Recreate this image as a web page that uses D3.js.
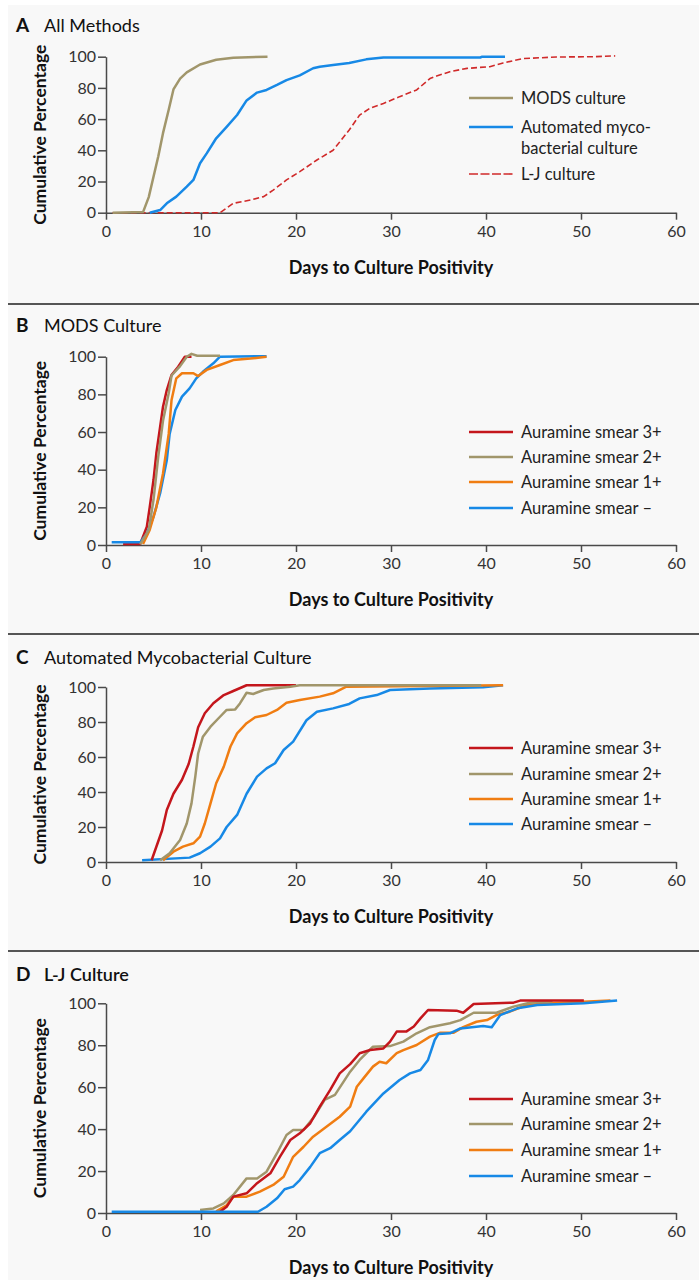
<!DOCTYPE html>
<html>
<head>
<meta charset="utf-8">
<title>Days to Culture Positivity</title>
<script src="https://cdn.jsdelivr.net/npm/d3@7"></script>
<style>
  body { margin: 0; background: #fff; }
  svg { display: block; font-family: Lato, "Open Sans", sans-serif; }
  .axis .domain, .axis .tick line { stroke: #4a4a4a; stroke-width: 1.5; }
  .axis .tick text { fill: #333; font-size: 16px; font-family: Lato, sans-serif; }
  .curve { fill: none; stroke-linejoin: round; }
  .legend text { font-size: 16.5px; fill: #222; }
</style>
</head>
<body>
<div id="chart"></div>
<script>
// tick labels
var xTicks = [0, 10, 20, 30, 40, 50, 60];
var yTicks = [0, 20, 40, 60, 80, 100];

var panelLetters = ['A', 'B', 'C', 'D'];
var panelTitles = ['All Methods', 'MODS Culture', 'Automated Mycobacterial Culture', 'L-J Culture'];
var methodLabels = [['MODS culture'], ['Automated myco-', 'bacterial culture'], ['L-J culture']];
var smearLabels = [['Auramine smear 3+'], ['Auramine smear 2+'], ['Auramine smear 1+'], ['Auramine smear \u2013']];

// [day, cumulative %]
// A: all methods
var allMods = [[0.7,0],[3.9,0.4],[4.5,10],[5.0,23],[5.5,36],[6.0,51],[6.6,66],[7.1,79],[7.8,86],[8.5,90],[9.9,95],[11.6,98],[13.4,99.4],[17,100]];
var allAuto = [[4.6,0],[5.7,1.7],[6.4,6],[7.4,10.3],[8.5,16.7],[9.2,21],[9.9,31.7],[10.6,38],[11.6,47.7],[12.7,55],[13.8,62.6],[14.8,72],[15.9,77],[16.9,78.7],[18,81.9],[19,85],[20.4,88],[21.8,92.6],[22.5,93.6],[23.9,94.7],[25.6,96],[27.4,98.3],[29.2,99.5],[39.4,99.5],[39.6,100],[42,100]];
var allLJ = [[0.7,0],[12,0],[13.4,6],[15.2,8.1],[16.6,10.3],[17.6,14.5],[19,21],[20.4,26.3],[22.2,33.8],[23.9,40],[25.6,53],[26.7,62.6],[27.8,67],[29.2,70],[30.9,74.4],[32.7,78.7],[34.1,86],[34.8,87.6],[36.2,90.4],[38,92.5],[40.4,93.6],[41.8,96],[43.9,98.8],[47.4,99.8],[51.3,100],[53.6,100.5]];

// B: MODS culture by smear grade
var modsSmear3 = [[1.8,0.5],[3.6,0.5],[4.3,9.7],[4.6,20],[5.0,34.5],[5.3,48.7],[5.7,62.8],[6.0,73.4],[6.4,82.3],[6.9,90.3],[7.6,94.7],[8.3,100],[9,100]];
var modsSmear2 = [[3.6,0.3],[4.5,8],[5.0,24],[5.5,47],[6.0,66],[6.6,80.6],[6.9,90],[7.8,95],[8.5,100],[9.0,101.5],[9.6,100.5],[12,100.5]];
var modsSmear1 = [[3.9,0.5],[4.6,8],[5.3,20],[6.0,38],[6.6,59],[6.9,77],[7.4,88.5],[8.0,91.2],[9.2,91.2],[9.7,89.7],[10.6,93],[12,95.6],[13.4,98.2],[15.2,99],[16.9,100]];
var modsSmearNeg = [[0.6,1.5],[3.6,1.5],[4.3,6],[5.0,15],[5.7,27.5],[6.4,45],[6.7,59],[7.3,71.7],[8.0,78.8],[8.8,83.2],[9.5,88.5],[10.2,92],[11.3,96.5],[12,100],[16.9,100.3]];

// C: automated mycobacterial culture by smear grade
var autoSmear3 = [[4.8,1],[5.3,8.7],[5.9,18],[6.4,29.7],[7.1,39],[8.0,47],[8.7,56],[9.2,66],[9.7,77],[10.4,85],[11.3,90.7],[12.4,95.4],[13.4,97.7],[14.8,101],[20,101]];
var autoSmear2 = [[5.7,1],[6.7,5],[7.8,12.6],[8.5,22],[9.0,33.5],[9.4,48.8],[9.7,62],[10.2,71.6],[11,77.3],[12,83],[12.7,86.9],[13.6,87.2],[14.1,90.6],[14.8,96.7],[15.5,96],[16.6,98.3],[17.6,99.2],[19.4,100.2],[20.4,101],[39.5,101]];
var autoSmear1 = [[6,1],[7.1,5.9],[8.1,8.8],[9.2,10.7],[9.9,14.5],[10.4,22],[11,33.5],[11.6,45],[12.4,54.5],[13.1,66],[13.8,73.5],[14.8,79.3],[15.7,82.7],[16.9,84],[18,86.9],[19,91],[20.4,92.6],[22.5,94.5],[23.9,96.4],[25.3,100.2],[41.8,101]];
var autoSmearNeg = [[3.8,1],[8.8,2.5],[9.9,5],[11,8.8],[12,13.5],[12.7,20],[13.8,26.9],[14.8,39],[15.9,48.8],[16.9,53.5],[17.8,56.4],[18.7,64],[19.7,68.8],[21.1,81],[22.2,85.9],[23.9,87.8],[25.6,90.3],[26.7,93.5],[28.5,95.4],[29.9,98.3],[34.1,99.2],[39.7,99.8],[41.8,101]];

// D: L-J culture by smear grade
var ljSmear3 = [[12,0.6],[12.7,3],[13.4,7.8],[14.8,9.4],[15.9,14.2],[17.3,18.9],[18.3,26.8],[19.4,34.8],[20.4,38],[21.5,42.8],[22.5,50.7],[23.6,58.7],[24.6,66.6],[25.7,71],[26.7,76.2],[27.8,77.7],[29.2,78.5],[29.9,81.7],[30.6,86.5],[31.6,86.5],[32.4,88.9],[33.1,92.8],[33.9,96.8],[36.9,96.5],[37.6,95.5],[38.7,99.7],[42.9,100.3],[43.6,101.3],[50.3,101.3]];
var ljSmear2 = [[9.9,1.4],[11.3,2.2],[12.4,4.6],[13.4,8.6],[14.8,16.5],[15.9,16.5],[16.9,19.7],[18,28.5],[19,37.2],[19.7,39.6],[20.8,39.6],[21.9,45.9],[23,53.9],[24.1,56.3],[25.7,67.4],[26.7,73],[28.1,79.3],[29.9,79.6],[31.3,81.7],[32.7,85.7],[34.1,88.6],[36.2,90.5],[37.3,92],[38.7,95.5],[41.1,95.5],[42.9,98.4],[44.6,100.3],[47,101]];
var ljSmear1 = [[11.6,0.8],[12.7,3.7],[13.4,7.8],[14.8,7.8],[16.2,10.2],[17.6,13.4],[18.7,17.3],[19.7,26.8],[20.8,31.6],[21.8,36.4],[23.2,41.1],[24.6,45.9],[25.7,50.7],[26.4,60.2],[27.1,64.2],[28.1,69.8],[28.8,72.1],[29.5,71.4],[30.6,76.2],[31.3,77.7],[32.7,80.1],[34.1,84.1],[35.2,86],[36.6,86],[37.6,88.6],[39,91.2],[40.1,92],[41.1,94.4],[42.5,96],[44.3,99.2],[46.7,100],[53.1,101.3]];
var ljSmearNeg = [[0.6,0.6],[16,0.6],[16.9,3],[18,7],[18.8,11.3],[19.7,12.6],[20.4,15.7],[21.5,22],[22.5,28.5],[23.6,30.9],[24.6,34.8],[25.7,39],[27.4,48.3],[29.2,57],[30.9,63.4],[32,66.6],[33.1,68.2],[33.9,73],[34.6,82.5],[35,85.4],[36.2,85.7],[37.3,88],[39.7,89.2],[40.6,88.6],[41.5,94.4],[43.3,97.6],[45.4,99.2],[50.3,100],[53.8,101.3]];

var olive = '#a1966b', blue = '#1789e6', red = '#c4161c', orange = '#f07d12', ljRed = '#d02a2a';
var smearColors = [red, olive, orange, blue];

var panels = [
  { y0: 212.7, y100: 56.7, titleY: 32, legendY: [98, 127, 174],
    labels: methodLabels, colors: [olive, blue, ljRed], dashed: [false, false, true],
    series: [allMods, allAuto, allLJ], drawOrder: [2, 1, 0] },
  { y0: 545, y100: 356.7, titleY: 332, legendY: [432, 457, 482, 508],
    labels: smearLabels, colors: smearColors, dashed: [false, false, false, false],
    series: [modsSmear3, modsSmear2, modsSmear1, modsSmearNeg], drawOrder: [0, 3, 2, 1] },
  { y0: 862, y100: 687, titleY: 664, legendY: [748, 774, 799, 824],
    labels: smearLabels, colors: smearColors, dashed: [false, false, false, false],
    series: [autoSmear3, autoSmear2, autoSmear1, autoSmearNeg], drawOrder: [3, 2, 0, 1] },
  { y0: 1213, y100: 1003.3, titleY: 981, legendY: [1099, 1124, 1150, 1176],
    labels: smearLabels, colors: smearColors, dashed: [false, false, false, false],
    series: [ljSmear3, ljSmear2, ljSmear1, ljSmearNeg], drawOrder: [2, 1, 0, 3] }
];
var separators = [304, 634, 951];

var width = 699, height = 1282;
var svg = d3.select('#chart').append('svg')
    .attr('width', width)
    .attr('height', height);

svg.append('rect')
    .attr('x', 8).attr('y', 5)
    .attr('width', width - 8).attr('height', 1275)
    .attr('fill', '#f8f8f8');

svg.selectAll('.sep')
    .data(separators)
    .enter()
    .append('line')
    .attr('class', 'sep')
    .attr('x1', 8).attr('x2', width)
    .attr('y1', function(d) { return d; })
    .attr('y2', function(d) { return d; })
    .attr('stroke', '#555')
    .attr('stroke-width', 2.2);

var x = d3.scaleLinear().domain([0, 60]).range([106, 676]);

panels.forEach(function(p, i) {
  var g = svg.append('g');
  var y = d3.scaleLinear().domain([0, 100]).range([p.y0, p.y100]);

  // panel heading
  var head = g.append('text').attr('y', p.titleY).attr('fill', '#111');
  head.append('tspan').attr('x', 16).attr('font-weight', 'bold').attr('font-size', 19)
      .text(panelLetters[i]);
  head.append('tspan').attr('x', 44).attr('font-size', 18).attr('font-weight', i === 3 ? 600 : 400)
      .text(panelTitles[i]);

  // axes
  g.append('g')
      .attr('class', 'axis')
      .attr('transform', 'translate(0,' + p.y0 + ')')
      .call(d3.axisBottom(x).tickValues(xTicks).tickSize(7).tickSizeOuter(0).tickPadding(6));

  g.append('g')
      .attr('class', 'axis')
      .attr('transform', 'translate(' + x(0) + ',0)')
      .call(d3.axisLeft(y).tickValues(yTicks).tickSize(8).tickSizeOuter(0).tickPadding(2));

  g.append('text')
      .attr('x', (x.range()[0] + x.range()[1]) / 2)
      .attr('y', p.y0 + 61)
      .attr('text-anchor', 'middle')
      .attr('font-weight', 'bold')
      .attr('font-size', 18)
      .attr('fill', '#111')
      .text('Days to Culture Positivity');

  g.append('text')
      .attr('transform', 'translate(46,' + ((p.y0 + p.y100) / 2) + ') rotate(-90)')
      .attr('text-anchor', 'middle')
      .attr('font-weight', 'bold')
      .attr('font-size', 17.5)
      .attr('fill', '#111')
      .text('Cumulative Percentage');

  // curves
  var line = d3.line()
      .x(function(d) { return x(d[0]); })
      .y(function(d) { return y(d[1]); });

  p.drawOrder.forEach(function(k) {
    g.append('path')
        .datum(p.series[k])
        .attr('class', 'curve')
        .attr('d', line)
        .attr('stroke', p.colors[k])
        .attr('stroke-width', p.dashed[k] ? 1.6 : 2.5)
        .attr('stroke-dasharray', p.dashed[k] ? '6,3' : null);
  });

  // legend
  var legend = g.selectAll('.legend')
      .data(p.labels)
      .enter()
      .append('g')
      .attr('class', 'legend')
      .attr('transform', function(d, k) { return 'translate(0,' + p.legendY[k] + ')'; });

  legend.append('line')
      .attr('x1', 469).attr('x2', 513)
      .attr('stroke', function(d, k) { return p.colors[k]; })
      .attr('stroke-width', function(d, k) { return p.dashed[k] ? 1.6 : 2.5; })
      .attr('stroke-dasharray', function(d, k) { return p.dashed[k] ? '9,2.5' : null; });

  legend.append('text')
      .attr('x', 521)
      .attr('y', 6)
      .selectAll('tspan')
      .data(function(d) { return d; })
      .enter()
      .append('tspan')
      .attr('x', 521)
      .attr('dy', function(d, j) { return j === 0 ? 0 : 21; })
      .text(function(d) { return d; });
});
</script>
</body>
</html>
